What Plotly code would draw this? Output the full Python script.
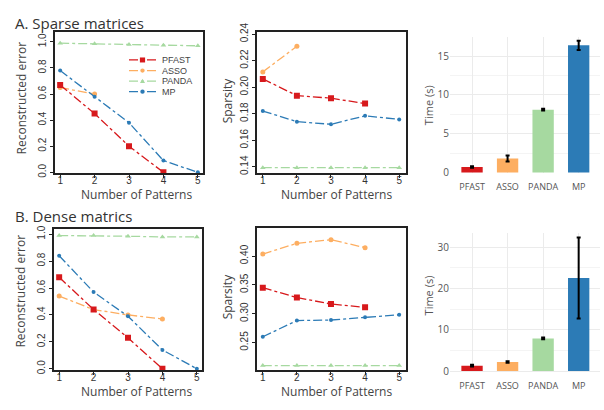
import plotly.graph_objects as go

W, H = 604, 410

# ---------------- data ----------------
patterns = [1, 2, 3, 4, 5]
methods = ["PFAST", "ASSO", "PANDA", "MP"]

# A. Sparse matrices
sparse_err_pfast = [0.67, 0.45, 0.20, 0.0]
sparse_err_asso = [0.65, 0.60]
sparse_err_panda = [0.99, 0.985, 0.98, 0.975, 0.97]
sparse_err_mp = [0.78, 0.58, 0.38, 0.09, 0.0]

sparse_spa_pfast = [0.2062, 0.1936, 0.1917, 0.1876]
sparse_spa_asso = [0.2115, 0.2308]
sparse_spa_panda = [0.1393, 0.1393, 0.1393, 0.1393, 0.1393]
sparse_spa_mp = [0.182, 0.174, 0.172, 0.1784, 0.1757]

sparse_time = [0.7, 1.8, 8.1, 16.4]
sparse_time_err = [0.1, 0.4, 0.1, 0.6]

# B. Dense matrices
dense_err_pfast = [0.68, 0.44, 0.23, 0.0]
dense_err_asso = [0.54, 0.44, 0.40, 0.37]
dense_err_panda = [0.99, 0.99, 0.985, 0.98, 0.98]
dense_err_mp = [0.84, 0.57, 0.39, 0.14, 0.0]

dense_spa_pfast = [0.345, 0.328, 0.3167, 0.311]
dense_spa_asso = [0.4033, 0.422, 0.4283, 0.4144]
dense_spa_panda = [0.21, 0.21, 0.21, 0.21, 0.21]
dense_spa_mp = [0.26, 0.288, 0.289, 0.294, 0.298]

dense_time = [1.3, 2.2, 7.9, 22.5]
dense_time_err = [0.2, 0.2, 0.2, 9.8]

# ---------------- style ----------------
colors = {"PFAST": "#d7191c", "ASSO": "#fdae61", "PANDA": "#a6d9a0", "MP": "#2c7bb6"}
symbols = {"PFAST": "square", "ASSO": "circle", "PANDA": "triangle-up", "MP": "circle"}
msize = {"PFAST": 6, "ASSO": 5, "PANDA": 5, "MP": 4}
TICKFONT = dict(family="Liberation Sans, Arial, sans-serif", size=10, color="#333")


def px(x):
    return x / W


def py(y):
    return 1 - y / H


fig = go.Figure()


def add_lines(xa, ya, series):
    for name, vals in series:
        fig.add_trace(go.Scatter(
            x=patterns[:len(vals)], y=vals, mode="lines+markers", name=name,
            xaxis=xa, yaxis=ya, showlegend=False,
            line=dict(color=colors[name], width=1.3, dash="dashdot"),
            marker=dict(symbol=symbols[name], size=msize[name], color=colors[name]),
        ))


def add_bars(xa, ya, vals, errs):
    fig.add_trace(go.Bar(
        x=methods, y=vals, xaxis=xa, yaxis=ya, showlegend=False, width=0.6,
        marker=dict(color=[colors[m] for m in methods], line=dict(width=0)),
        error_y=dict(type="data", array=errs, color="black", thickness=2, width=2),
    ))


add_lines("x", "y", [("PANDA", sparse_err_panda), ("ASSO", sparse_err_asso),
                     ("MP", sparse_err_mp), ("PFAST", sparse_err_pfast)])
add_lines("x2", "y2", [("PANDA", sparse_spa_panda), ("ASSO", sparse_spa_asso),
                       ("MP", sparse_spa_mp), ("PFAST", sparse_spa_pfast)])
add_bars("x3", "y3", sparse_time, sparse_time_err)
add_lines("x4", "y4", [("PANDA", dense_err_panda), ("ASSO", dense_err_asso),
                       ("MP", dense_err_mp), ("PFAST", dense_err_pfast)])
add_lines("x5", "y5", [("PANDA", dense_spa_panda), ("ASSO", dense_spa_asso),
                       ("MP", dense_spa_mp), ("PFAST", dense_spa_pfast)])
add_bars("x6", "y6", dense_time, dense_time_err)


def line_axes(xdom, ydom, xr, yr, ytv, ytt):
    xa = dict(domain=[px(xdom[0]), px(xdom[1])], range=xr, tickvals=patterns,
              ticks="outside", ticklen=3, tickcolor="#222", tickfont=TICKFONT,
              ticklabelstandoff=-6,
              showgrid=False, zeroline=False, showline=True, mirror=True,
              linecolor="#222", linewidth=1.5)
    ya = dict(domain=[py(ydom[1]), py(ydom[0])], range=yr, tickvals=ytv, ticktext=ytt,
              tickangle=-90, ticks="outside", ticklen=3, tickcolor="#222", tickfont=TICKFONT,
              showgrid=False, zeroline=False, showline=True, mirror=True,
              linecolor="#222", linewidth=1.5)
    return xa, ya


def bar_axes(xdom, ydom, yr, ytv, minor_dtick):
    xa = dict(domain=[px(xdom[0]), px(xdom[1])], range=[-0.62, 3.6], showgrid=True,
              gridcolor="#ebebeb", gridwidth=1, zeroline=False, showline=False, ticks="",
              ticklabelstandoff=7,
              tickfont=dict(family="Open Sans, sans-serif", size=9, color="#555"))
    ya = dict(domain=[py(ydom[1]), py(ydom[0])], range=yr, tickvals=ytv, showgrid=True,
              gridcolor="#ebebeb", gridwidth=1, zeroline=False, showline=False, ticks="",
              tickfont=dict(family="Open Sans, sans-serif", size=10, color="#555"),
              minor=dict(dtick=minor_dtick, tick0=0, showgrid=True, gridcolor="#f4f4f4", gridwidth=1))
    return xa, ya


err_tv = [0.0, 0.2, 0.4, 0.6, 0.8, 1.0]
err_tt = ["0.0", "0.2", "0.4", "0.6", "0.8", "1.0"]
x1, y1 = line_axes((55, 203), (23, 170), [0.85, 5.15], [-0.008, 1.075], err_tv, err_tt)
x2, y2 = line_axes((257, 406), (23, 170), [0.83, 5.2], [0.135, 0.2415],
                   [0.14, 0.16, 0.18, 0.20, 0.22, 0.24],
                   ["0.14", "0.16", "0.18", "0.20", "0.22", "0.24"])
x3, y3 = bar_axes((450, 600), (28, 170), [-0.12, 17.48], [0, 5, 10, 15], 2.5)
x4, y4 = line_axes((54, 202), (228, 375), [0.85, 5.15], [-0.012, 1.038], err_tv, err_tt)
x5, y5 = line_axes((257, 406), (227, 375), [0.83, 5.2], [0.2017, 0.4483],
                   [0.25, 0.30, 0.35, 0.40], ["0.25", "0.30", "0.35", "0.40"])
x6, y6 = bar_axes((450, 600), (232, 377), [-0.3, 33.4], [0, 10, 20, 30], 5)

for i, (xa, ya) in enumerate([(x1, y1), (x2, y2), (x3, y3), (x4, y4), (x5, y5), (x6, y6)], start=1):
    s = "" if i == 1 else str(i)
    xa["anchor"] = "y" + s
    ya["anchor"] = "x" + s
    fig.layout["xaxis" + s] = xa
    fig.layout["yaxis" + s] = ya

ann = []


def text(x, y, t, size=12, angle=0, anchor="center", font="Open Sans, sans-serif", color="#444"):
    ann.append(dict(x=px(x), y=py(y), xref="paper", yref="paper", text=t, showarrow=False,
                    textangle=angle, xanchor=anchor, yanchor="middle",
                    font=dict(family=font, size=size, color=color)))


text(13, 14, "A. Sparse matrices", size=15, anchor="left", color="#333")
text(13, 214, "B. Dense matrics", size=15, anchor="left", color="#333")
text(21, 92, "Reconstructed error", angle=-90)
text(21, 293, "Reconstructed error", angle=-90)
text(136, 192, "Number of Patterns")
text(336, 192, "Number of Patterns")
text(136, 397, "Number of Patterns")
text(336, 397, "Number of Patterns")
text(227, 94, "Sparsity", angle=-90)
text(227, 298, "Sparsity", angle=-90)
text(428, 99, "Time (s)", size=11, angle=-90, color="#555")
text(428, 297, "Time (s)", size=11, angle=-90, color="#555")

# legend (top-left panel)
shapes = []
leg_rows = [("PFAST", 52), ("ASSO", 63), ("PANDA", 74), ("MP", 85)]
for name, yy in leg_rows:
    c = colors[name]
    shapes.append(dict(type="line", xref="paper", yref="paper", x0=px(129), x1=px(156),
                       y0=py(yy), y1=py(yy), line=dict(color=c, width=1.3, dash="dashdot")))
    r = 2.6 if name == "PFAST" else 2.2
    if name == "PFAST":
        shapes.append(dict(type="rect", xref="paper", yref="paper", x0=px(142.5 - r), x1=px(142.5 + r),
                           y0=py(yy + r), y1=py(yy - r), fillcolor=c, line=dict(width=0)))
    elif name == "PANDA":
        shapes.append(dict(type="path", xref="paper", yref="paper",
                           path="M %f %f L %f %f L %f %f Z" % (px(140), py(yy + 2), px(145), py(yy + 2),
                                                               px(142.5), py(yy - 2.5)),
                           fillcolor=c, line=dict(width=0)))
    else:
        shapes.append(dict(type="circle", xref="paper", yref="paper", x0=px(142.5 - r), x1=px(142.5 + r),
                           y0=py(yy + r), y1=py(yy - r), fillcolor=c, line=dict(width=0)))
    text(160, yy, name, size=9, anchor="left", font="Liberation Sans, Arial, sans-serif", color="#444")

fig.update_layout(width=W, height=H, margin=dict(l=0, r=0, t=0, b=0),
                  paper_bgcolor="white", plot_bgcolor="white",
                  annotations=ann, shapes=shapes, showlegend=False)

fig.write_html("out.html", config={"displayModeBar": False},
               post_script="document.body.style.margin='0';document.body.style.overflow='hidden';")
